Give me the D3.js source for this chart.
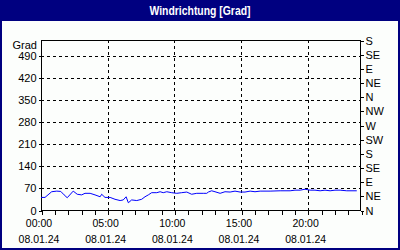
<!DOCTYPE html>
<html><head><meta charset="utf-8">
<script src="https://cdn.jsdelivr.net/npm/d3@7"></script>
<style>
html,body{margin:0;padding:0;background:#fff;}
svg{display:block;font-family:"Liberation Sans",Arial,sans-serif;}
</style></head>
<body><svg id="c" width="400" height="250"></svg>
<script>
const title = "Windrichtung [Grad]";
const unitLabel = "Grad";
const dateLabel = "08.01.24";
const times = ["00:00","00:18","00:48","01:11","01:29","01:44","01:58","02:25","02:43","03:03","03:18","03:41","04:03","04:26","04:33","04:48","05:11","05:33","05:56","06:10","06:23","06:33","06:48","07:11","07:33","07:48","08:03","08:18","08:41","08:56","09:10","09:26","09:48","10:11","10:33","10:56","11:18","11:41","12:10","12:26","12:33","12:48","13:03","13:26","13:48","14:11","14:33","14:56","15:18","15:41","16:03","16:26","17:11","17:56","18:41","19:03","19:26","19:48","20:11","20:33","20:56","21:18","21:41","22:03","22:26","22:56","23:41"];
const values = [40,40,58,60,59,48,39,60,50,48,53,53,48,42,50,40,40,34,30,32,42,23,32,30,34,42,48,55,55,58,55,58,55,53,55,57,50,53,53,53,57,61,58,53,58,57,60,57,57,60,58,60,60,61,61,63,63,66,63,63,61,63,61,63,63,61,61];
const leftTicks = [0,70,140,210,280,350,420,490];
const dirTicks = [0,45,90,135,180,225,270,315,360,405,450,495,540];
const dirLabels = ["N","NE","E","SE","S","SW","W","NW","N","NE","E","SE","S"];
const majorHours = [0,5,10,15,20];

const W = 400, H = 250;
const svg = d3.select("#c");
const navy = "#000080";
const L = 41, R = 361, T = 40, B = 210;

// frame
svg.append("rect").attr("x",0).attr("y",0).attr("width",W).attr("height",H).attr("fill",navy);
svg.append("rect").attr("x",2).attr("y",21).attr("width",W-4).attr("height",H-23).attr("fill","#fcfefc");
svg.append("text").attr("x",W/2).attr("y",15).attr("text-anchor","middle")
  .attr("fill","#fff").attr("font-weight","bold").attr("font-size","12px")
  .attr("textLength",101).attr("lengthAdjust","spacingAndGlyphs").text(title);

const parse = d3.timeParse("%Y-%m-%d %H:%M");
const day0 = parse("2024-01-08 00:00"), day1 = parse("2024-01-09 00:00");
const x = d3.scaleTime().domain([day0, day1]).range([L, R]);
const y = d3.scaleLinear().domain([0, 540]).range([B, T]);
const data = times.map((t,i)=>({d: parse("2024-01-08 " + t), v: values[i]}));

const g = svg.append("g").attr("shape-rendering","crispEdges");
// horizontal grid
g.selectAll(".hg").data(leftTicks.filter(v=>v>0)).join("line")
  .attr("x1",L).attr("x2",R).attr("y1",d=>Math.round(y(d))+0.5).attr("y2",d=>Math.round(y(d))+0.5)
  .attr("stroke","#000").attr("stroke-dasharray","3,3");
// vertical grid
g.selectAll(".vg").data(majorHours.filter(h=>h>0)).join("line")
  .attr("x1",h=>Math.round(x(d3.timeHour.offset(day0,h)))+0.5).attr("x2",h=>Math.round(x(d3.timeHour.offset(day0,h)))+0.5)
  .attr("y1",T).attr("y2",B).attr("stroke","#000").attr("stroke-dasharray","3,3");

// line
svg.append("path").datum(data).attr("fill","none").attr("stroke","#0000ff").attr("stroke-width",1)
  .attr("d", d3.line().x(d=>x(d.d)).y(d=>y(d.v)));

// box
g.append("rect").attr("x",L+0.5).attr("y",T+0.5).attr("width",R-L-1).attr("height",B-T)
  .attr("fill","none").attr("stroke","#000");

// left axis
const la = svg.append("g").attr("transform",`translate(${L+0.5},0.5)`)
  .call(d3.axisLeft(y).tickValues(leftTicks).tickSize(3).tickPadding(2).tickFormat(d3.format("d")));
la.select(".domain").remove();
la.selectAll("line").attr("shape-rendering","crispEdges");
la.selectAll("text").attr("font-size","11px").attr("fill","#000").attr("font-family","Liberation Sans, Arial, sans-serif");
svg.append("text").attr("x",37).attr("y",49).attr("text-anchor","end").attr("font-size","11px").text(unitLabel);

// right axis
const ra = svg.append("g").attr("transform",`translate(${R-0.5},0.5)`)
  .call(d3.axisRight(y).tickValues(dirTicks).tickSize(3).tickPadding(2).tickFormat((d,i)=>dirLabels[i]));
ra.select(".domain").remove();
ra.selectAll("line").attr("shape-rendering","crispEdges");
ra.selectAll("text").attr("font-size","11px").attr("fill","#000").attr("font-family","Liberation Sans, Arial, sans-serif");

// bottom axis (minor hourly ticks)
const ba = svg.append("g").attr("transform",`translate(0.5,${B+0.5})`)
  .call(d3.axisBottom(x).ticks(d3.timeHour.every(1)).tickSize(4).tickFormat(""));
ba.select(".domain").remove();
ba.selectAll("line").attr("shape-rendering","crispEdges");
// major labels
const lab = svg.append("g").attr("font-size","10.5px").attr("text-anchor","middle");
majorHours.forEach(h=>{
  const d = d3.timeHour.offset(day0,h);
  const px = x(d) - 2;
  lab.append("text").attr("x",px).attr("y",227).text(d3.timeFormat("%H:%M")(d));
  lab.append("text").attr("x",px).attr("y",243).text(dateLabel);
});
</script></body></html>
